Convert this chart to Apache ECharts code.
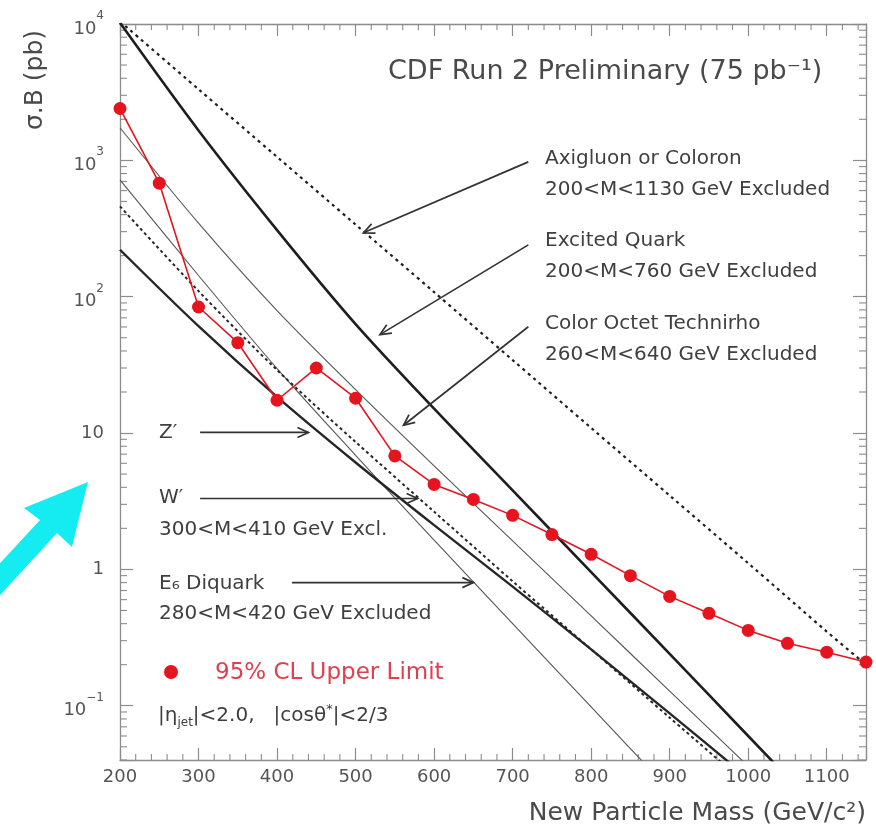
<!DOCTYPE html>
<html>
<head>
<meta charset="utf-8">
<script src="https://cdn.jsdelivr.net/npm/echarts@6/dist/echarts.min.js"></script>
<style>
  html, body { margin: 0; padding: 0; background: #fff; }
  #chart { width: 876px; height: 830px; }
</style>
</head>
<body>
<div id="chart"></div>
<script>
// ---- Data -------------------------------------------------------------
// 95% CL upper limit on sigma*B (pb) vs new particle mass (GeV/c^2)
const limitMass = [200, 250, 300, 350, 400, 450, 500, 550, 600, 650,
                   700, 750, 800, 850, 900, 950, 1000, 1050, 1100, 1150];
const upperLimit = [2400, 680, 84, 46, 17.4, 30, 18, 6.8, 4.2, 3.26,
                    2.49, 1.80, 1.29, 0.90, 0.634, 0.476, 0.357, 0.287, 0.247, 0.209];

// Theory predictions (pb), sampled every 100 GeV
const theoryMass   = [200, 300, 400, 500, 600, 700, 800, 900, 1000, 1100, 1150];
const axigluon     = [10450, 3320, 1060, 338, 108, 34.3, 10.9, 3.48, 1.11, 0.35, 0.2];
const excitedQuark = [10200, 1656, 308, 63, 15.1, 3.8, 0.955, 0.24, 0.060, 0.015, null];
const technirho    = [1734, 346, 79, 20.8, 5.74, 1.62, 0.456, 0.128, 0.036, null, null];
const diquark      = [720, 143, 29.7, 6.87, 1.64, 0.40, 0.098, 0.024, null, null, null];
const wPrime       = [460, 110, 29, 8.6, 2.65, 0.818, 0.259, 0.0818, 0.0259, null, null];
const zPrime       = [221, 60.8, 18.4, 6.08, 2.11, 0.748, 0.259, 0.0879, 0.0294, null, null];

// Axis ranges and tick labels
const massRange = [200, 1150];
const xsecRange = [0.04, 10000];
const massTicks = [200, 300, 400, 500, 600, 700, 800, 900, 1000, 1100];
const decadeLabels = { '-1': '{b|10}{s|−1}', '0': '{p|1}', '1': '{p|10}',
                       '2': '{b|10}{s|2}', '3': '{b|10}{s|3}', '4': '{b|10}{s|4}' };

(function () {
  const FONT = 'DejaVu Sans';
  const AXIS_GREY = '#8c8c8c';
  const chart = echarts.init(document.getElementById('chart'));

  function pairs(xs, ys) {
    const out = [];
    xs.forEach((x, i) => { if (ys[i] != null) out.push([x, ys[i]]); });
    return out;
  }
  function theory(name, ys, lineStyle) {
    return { name, type: 'line', data: pairs(theoryMass, ys), showSymbol: false,
             smooth: 0.3, clip: true, silent: true, z: 2, lineStyle };
  }

  const xBase = {
    type: 'value', min: massRange[0], max: massRange[1], interval: 100,
    splitLine: { show: false },
    axisLine: { onZero: false, lineStyle: { color: AXIS_GREY, width: 1.3 } },
    axisTick: { inside: true, length: 12, lineStyle: { color: AXIS_GREY, width: 1.2 } }
  };
  const yBase = {
    type: 'log', logBase: 10, min: xsecRange[0], max: xsecRange[1],
    splitLine: { show: false },
    axisLine: { onZero: false, lineStyle: { color: AXIS_GREY, width: 1.3 } },
    axisTick: { inside: true, length: 13, lineStyle: { color: AXIS_GREY, width: 1.2 } }
  };

  chart.setOption({
    animation: false,
    backgroundColor: '#fff',
    textStyle: { fontFamily: FONT },
    grid: { left: 120, top: 24, right: 10, bottom: 70, containLabel: false },
    xAxis: [
      Object.assign({}, xBase, {
        position: 'bottom',
        axisLabel: {
          color: '#555', fontSize: 18, margin: 8, fontFamily: FONT,
          formatter: v => (massTicks.indexOf(Math.round(v)) >= 0 ? String(Math.round(v)) : '')
        }
      }),
      Object.assign({}, xBase, { position: 'top', axisLabel: { show: false } })
    ],
    yAxis: [
      Object.assign({}, yBase, {
        position: 'left',
        axisLabel: {
          margin: 16, color: '#555', fontFamily: FONT,
          formatter: v => {
            const e = Math.log10(v);
            const r = Math.round(e);
            if (Math.abs(e - r) > 1e-6) return '';
            return decadeLabels[String(r)] || '';
          },
          rich: {
            b: { fontSize: 18, color: '#555', fontFamily: FONT, lineHeight: 28, verticalAlign: 'bottom' },
            s: { fontSize: 12, color: '#555', fontFamily: FONT, lineHeight: 14, verticalAlign: 'top' },
            p: { fontSize: 18, color: '#555', fontFamily: FONT }
          }
        }
      }),
      Object.assign({}, yBase, { position: 'right', axisLabel: { show: false } })
    ],
    series: [
      theory('Axigluon or Coloron', axigluon, { color: '#1e1e1e', width: 2.2, type: [3, 4] }),
      theory('Excited Quark', excitedQuark, { color: '#1e1e1e', width: 2.6 }),
      theory('Color Octet Technirho', technirho, { color: '#555', width: 1.1 }),
      theory('E6 Diquark', diquark, { color: '#555', width: 1.1 }),
      theory("W'", wPrime, { color: '#262626', width: 2, type: [3, 3] }),
      theory("Z'", zPrime, { color: '#262626', width: 2.4 }),
      {
        name: '95% CL Upper Limit', type: 'line', data: pairs(limitMass, upperLimit),
        symbol: 'circle', symbolSize: 13, clip: true, z: 5, silent: true,
        itemStyle: { color: '#e5141e' },
        lineStyle: { color: '#e5141e', width: 1.6 }
      }
    ]
  });

  // ---- Decorations drawn from axis coordinates -------------------------
  function px(x, y) { return chart.convertToPixel({ gridIndex: 0 }, [x, y]); }

  const plotLeft = px(massRange[0], 1)[0];
  const plotRight = px(massRange[1], 1)[0];
  const plotTop = px(300, xsecRange[1])[1];
  const plotBottom = px(300, xsecRange[0])[1];
  const els = [];
  const tickStyle = { stroke: AXIS_GREY, lineWidth: 1.1 };

  // log minor ticks (2..9 in each decade) on left and right axes
  for (let d = -2; d <= 3; d++) {
    for (let k = 2; k <= 9; k++) {
      const v = k * Math.pow(10, d);
      if (v < xsecRange[0] || v > xsecRange[1]) continue;
      const y = px(300, v)[1];
      els.push({ type: 'line', shape: { x1: plotLeft, y1: y, x2: plotLeft + 7, y2: y }, style: tickStyle, silent: true });
      els.push({ type: 'line', shape: { x1: plotRight, y1: y, x2: plotRight - 7, y2: y }, style: tickStyle, silent: true });
    }
  }
  // mass minor ticks every 20 GeV on bottom and top axes
  for (let m = massRange[0] + 20; m < massRange[1]; m += 20) {
    if (m % 100 === 0) continue;
    const x = px(m, 1)[0];
    els.push({ type: 'line', shape: { x1: x, y1: plotBottom, x2: x, y2: plotBottom - 6 }, style: tickStyle, silent: true });
    els.push({ type: 'line', shape: { x1: x, y1: plotTop, x2: x, y2: plotTop + 6 }, style: tickStyle, silent: true });
  }

  // annotation arrows, endpoints in (mass, pb)
  const arrows = [
    [[720, 975], [510, 294]],
    [[720, 240], [531, 52.7]],
    [[720, 60.2], [561, 11.4]],
    [[302, 10.1], [440, 10.1]],
    [[302, 3.31], [579, 3.31]],
    [[419, 0.80], [650, 0.80]]
  ];
  arrows.forEach(([a, b]) => {
    const p0 = px(a[0], a[1]), p1 = px(b[0], b[1]);
    const dx = p1[0] - p0[0], dy = p1[1] - p0[1];
    const len = Math.hypot(dx, dy), ux = dx / len, uy = dy / len;
    const hl = 11, hw = 5;
    const bx = p1[0] - ux * hl, by = p1[1] - uy * hl;
    const h1 = [bx - uy * hw, by + ux * hw], h2 = [bx + uy * hw, by - ux * hw];
    const st = { stroke: '#333', lineWidth: 1.7, fill: null };
    els.push({ type: 'polyline', shape: { points: [p0, p1] }, style: st, silent: true, z: 10 });
    els.push({ type: 'polyline', shape: { points: [h1, p1, h2] }, style: st, silent: true, z: 10 });
  });

  // text blocks
  const TXT = '#3f3f3f';
  function label(x, y, text, size, extra) {
    els.push({
      type: 'text', x, y, silent: true, z: 10,
      style: Object.assign({ text, fontFamily: FONT, fontSize: size, fill: TXT,
                             align: 'left', verticalAlign: 'middle' }, extra || {})
    });
  }
  label(388, 72, 'CDF Run 2 Preliminary (75 pb⁻¹)', 27, { fill: '#4a4a4a' });
  label(545, 159, 'Axigluon or Coloron', 20);
  label(545, 190, '200<M<1130 GeV Excluded', 20);
  label(545, 241, 'Excited Quark', 20);
  label(545, 272, '200<M<760 GeV Excluded', 20);
  label(545, 324, 'Color Octet Technirho', 20);
  label(545, 355, '260<M<640 GeV Excluded', 20);
  label(159, 433, 'Z′', 20);
  label(159, 498, 'W′', 20);
  label(159, 530, '300<M<410 GeV Excl.', 20);
  label(159, 584, 'E₆ Diquark', 20);
  label(159, 614, '280<M<420 GeV Excluded', 20);
  label(215, 673, '95% CL Upper Limit', 23, { fill: '#e0404e' });
  label(158, 716, '{a||η}{u|jet}{a||<2.0,   |cosθ}{v|*}{a||<2/3}', 20, {
    rich: {
      a: { fontFamily: FONT, fontSize: 20, fill: TXT, lineHeight: 26, verticalAlign: 'middle' },
      u: { fontFamily: FONT, fontSize: 12, fill: TXT, lineHeight: 14, verticalAlign: 'bottom' },
      v: { fontFamily: FONT, fontSize: 13, fill: TXT, lineHeight: 14, verticalAlign: 'top' }
    }
  });
  els.push({ type: 'circle', shape: { cx: 171, cy: 672, r: 7 }, style: { fill: '#e5141e' }, silent: true, z: 10 });

  // axis titles
  label(866, 813, 'New Particle Mass (GeV/c²)', 25, { align: 'right', fill: '#4a4a4a' });
  els.push({
    type: 'text', x: 35, y: 80, rotation: Math.PI / 2, silent: true, z: 10,
    style: { text: 'σ.B (pb)', fontFamily: FONT, fontSize: 25, fill: '#4a4a4a',
             align: 'center', verticalAlign: 'middle' }
  });

  // pointer arrow in the lower-left margin
  els.push({
    type: 'polygon', silent: true, z: 20,
    shape: { points: [[88, 482], [72, 547], [57, 533], [-20, 617], [-20, 585], [40, 520], [24, 508]] },
    style: { fill: '#14ecf2' }
  });

  chart.setOption({ graphic: els });
})();
</script>
</body>
</html>
